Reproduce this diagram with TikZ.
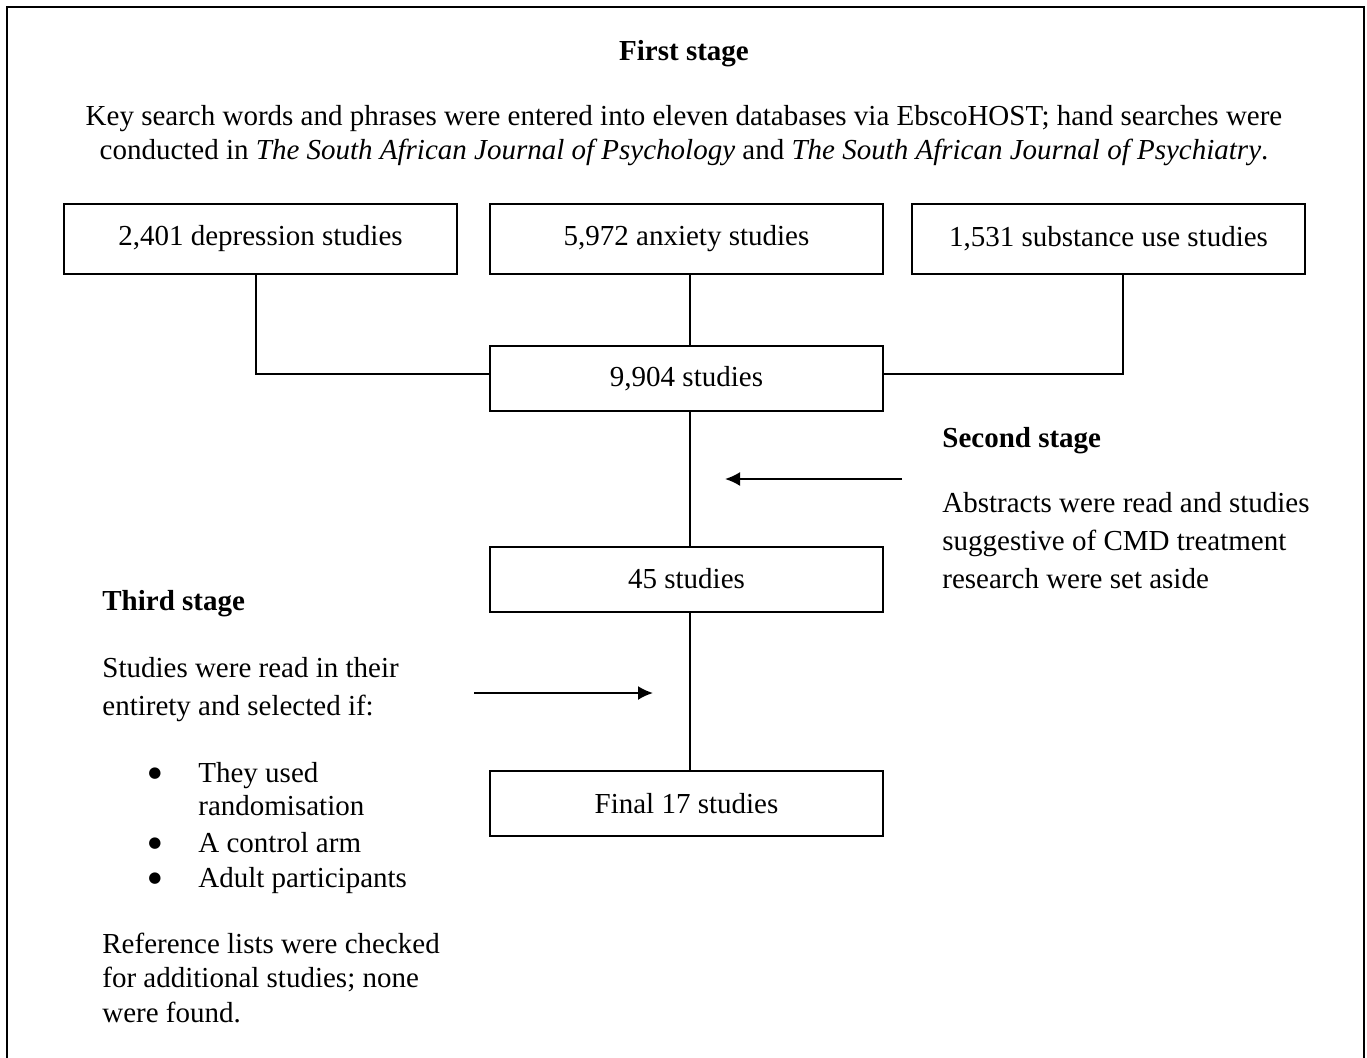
\documentclass[tikz,border=0pt]{standalone}
\usepackage{fontspec}
\setmainfont{Liberation Serif}
\newfontfamily\dejavu{DejaVu Sans}
\usetikzlibrary{arrows.meta}
\newcommand{\myfs}{\fontsize{14.5pt}{17pt}\selectfont}
\begin{document}
\begin{tikzpicture}[x=0.5pt,y=-0.5pt,
  every node/.style={font=\myfs, inner sep=0pt},
  box/.style={draw, line width=1pt, minimum width=196.5pt, minimum height=32.5pt, align=center},
  topbox/.style={box, minimum height=35pt},
  txt/.style={anchor=base west},
  ctr/.style={anchor=base},
  bold/.style={font=\myfs\bfseries},
  bul/.style={anchor=center, font=\dejavu\fontsize{7.5pt}{8pt}\selectfont},
  conn/.style={line width=1pt},
  arr/.style={line width=1pt, -{Latex[length=7.5pt,width=7pt]}}
]
\useasboundingbox (0,0) rectangle (1367,1057);
% outer frame (open at the bottom edge)
\draw[line width=1pt] (7,1062) -- (7,7) -- (1364,7) -- (1364,1062);

% first stage
\node[ctr,bold] (t1) at (684,60) {First stage};
\node[ctr] (p1) at (684,125) {Key search words and phrases were entered into eleven databases via EbscoHOST; hand searches were};
\node[ctr] (p2) at (684,159) {conducted in \textit{The South African Journal of Psychology} and \textit{The South African Journal of Psychiatry}.};

% boxes
\node[topbox] (b1) at (260.5,239) {2,401 depression studies};
\node[topbox] (b2) at (686.5,239) {5,972 anxiety studies};
\node[topbox] (b3) at (1108.5,239) {1,531 substance use studies};
\node[box] (n1) at (686.5,378.5) {9,904 studies};
\node[box] (n2) at (686.5,579) {45 studies};
\node[box] (n3) at (686.5,803.5) {Final 17 studies};

% connectors
\draw[conn] ([xshift=-2.25pt]b1.south) |- ([yshift=2.25pt]n1.west);
\draw[conn] ([xshift=1.75pt]b2.south) -- ([xshift=1.75pt]n1.north);
\draw[conn] ([xshift=7.25pt]b3.south) |- ([yshift=2.25pt]n1.east);
\draw[conn] ([xshift=1.75pt]n1.south) -- ([xshift=1.75pt]n2.north);
\draw[conn] ([xshift=1.75pt]n2.south) -- ([xshift=1.75pt]n3.north);

% arrows
\coordinate (a2s) at (902,479);
\coordinate (a2e) at (725,479);
\draw[arr] (a2s) -- (a2e);
\coordinate (a3s) at (474,693);
\coordinate (a3e) at (653,693);
\draw[arr] (a3s) -- (a3e);

% second stage
\node[txt,bold] (s2) at (942,447) {Second stage};
\node[txt] (s2a) at (942,512) {Abstracts were read and studies};
\node[txt] (s2b) at (942,550) {suggestive of CMD treatment};
\node[txt] (s2c) at (942,588) {research were set aside};

% third stage
\node[txt,bold] (s3) at (102,610) {Third stage};
\node[txt] (s3a) at (102,677) {Studies were read in their};
\node[txt] (s3b) at (102,715) {entirety and selected if:};
\node[bul] (u1) at (155,774) {●};
\node[txt] (c1a) at (198,782) {They used};
\node[txt] (c1b) at (198,815) {randomisation};
\node[bul] (u2) at (155,844) {●};
\node[txt] (c2) at (198,852) {A control arm};
\node[bul] (u3) at (155,879) {●};
\node[txt] (c3) at (198,887) {Adult participants};
\node[txt] (r1) at (102,953) {Reference lists were checked};
\node[txt] (r2) at (102,987) {for additional studies; none};
\node[txt] (r3) at (102,1022) {were found.};
\end{tikzpicture}
\end{document}
